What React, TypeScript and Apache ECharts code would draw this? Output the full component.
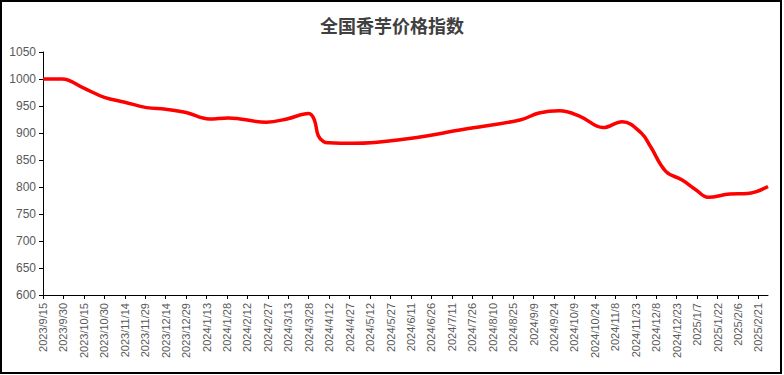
import React, { useEffect, useRef } from "react";
import * as echarts from "echarts";

const TITLE = "全国香芋价格指数";
const START_DATE = [2023, 9, 15];
const END_DATE = [2025, 2, 28];

const pointDates = [
  "2023/9/15", "2023/9/29", "2023/10/15", "2023/10/30", "2023/11/14", "2023/11/30",
  "2023/12/14", "2023/12/29", "2024/1/15", "2024/1/29", "2024/2/26", "2024/3/12",
  "2024/3/28", "2024/4/1", "2024/4/4", "2024/4/8", "2024/4/12", "2024/4/30",
  "2024/6/10", "2024/7/20", "2024/8/30", "2024/9/13", "2024/9/28", "2024/10/13",
  "2024/10/30", "2024/11/13", "2024/11/27", "2024/12/4", "2024/12/15", "2024/12/27",
  "2025/1/6", "2025/1/15", "2025/1/31", "2025/2/13", "2025/2/28",
];
const pointValues = [
  1000, 1000, 983, 966, 957, 947,
  944, 938, 926, 928, 920, 926,
  936, 925, 895, 884, 882, 881,
  890, 907, 924, 937, 941, 931,
  910, 921, 900, 874, 829, 813,
  795, 781, 787, 788, 801,
];

const Y_MIN = 600;
const Y_MAX = 1050;
const Y_STEP = 50;

function buildCategories(): string[] {
  const out: string[] = [];
  const start = Date.UTC(START_DATE[0], START_DATE[1] - 1, START_DATE[2]);
  const end = Date.UTC(END_DATE[0], END_DATE[1] - 1, END_DATE[2]);
  for (let t = start; t <= end; t += 86400000) {
    const d = new Date(t);
    out.push(`${d.getUTCFullYear()}/${d.getUTCMonth() + 1}/${d.getUTCDate()}`);
  }
  return out;
}

export default function App() {
  const ref = useRef<HTMLDivElement>(null);
  useEffect(() => {
    if (!ref.current) return;
    const chart = echarts.init(ref.current, undefined, { renderer: "svg" });
    const categories = buildCategories();
    const data = pointDates.map((d, i) => [d, pointValues[i]]);
    chart.setOption({
      animation: false,
      backgroundColor: "#ffffff",
      title: {
        text: TITLE,
        left: "center",
        top: 11,
        textStyle: {
          fontFamily: "Noto Sans CJK SC",
          fontSize: 18,
          fontWeight: "bold",
          color: "#404040",
        },
      },
      graphic: [
        {
          type: "rect",
          shape: { x: 1, y: 1, width: 780, height: 372 },
          style: { fill: "none", stroke: "#000000", lineWidth: 2 },
          silent: true,
        },
      ],
      grid: { left: 43, right: 16, top: 52, bottom: 80, containLabel: false },
      xAxis: {
        type: "category",
        data: categories,
        boundaryGap: false,
        axisLine: { show: true, lineStyle: { color: "#000000", width: 1 } },
        axisTick: { show: true, interval: 14, length: 4, lineStyle: { color: "#000000" } },
        axisLabel: {
          interval: 14,
          rotate: 90,
          margin: 8,
          fontFamily: "Liberation Sans",
          fontSize: 11,
          color: "#595959",
        },
        splitLine: { show: false },
      },
      yAxis: {
        type: "value",
        min: Y_MIN,
        max: Y_MAX,
        interval: Y_STEP,
        axisLine: { show: true, lineStyle: { color: "#000000", width: 1 } },
        axisTick: { show: true, length: 4, lineStyle: { color: "#000000" } },
        axisLabel: {
          margin: 7,
          fontFamily: "Liberation Sans",
          fontSize: 12,
          color: "#595959",
          formatter: (v: number) => String(v),
        },
        splitLine: { show: false },
      },
      series: [
        {
          type: "line",
          data,
          smooth: 0.4,
          showSymbol: false,
          symbol: "none",
          lineStyle: { color: "#ff0000", width: 3.5 },
        },
      ],
    });
    return () => chart.dispose();
  }, []);
  return (
    <div
      ref={ref}
      style={{ position: "absolute", left: 0, top: 0, width: 784, height: 375 }}
    />
  );
}
